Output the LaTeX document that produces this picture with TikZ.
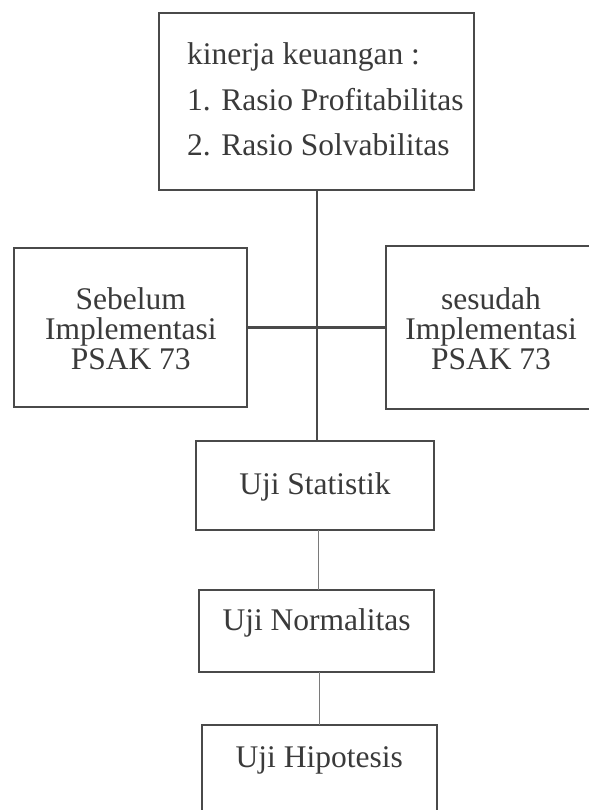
\documentclass[tikz,border=0pt]{standalone}
\usepackage{fontspec}
\setmainfont{Liberation Serif}
\definecolor{linegray}{HTML}{4A4A4A}
\definecolor{thingray}{HTML}{7A7A7A}
\definecolor{textgray}{HTML}{3A3A3A}
\begin{document}
\begin{tikzpicture}[x=1bp,y=-1bp,
  box/.style={draw=linegray, line width=2bp, inner sep=0pt, outer sep=0pt},
  conn/.style={draw=linegray, line width=2.2bp},
  thinconn/.style={draw=thingray, line width=1bp},
  txt/.style={text=textgray, font=\fontsize{31.5bp}{34bp}\selectfont, inner sep=0pt}]
\useasboundingbox (0,0) rectangle (589,810);
\clip (0,0) rectangle (589,810);
\fill[white] (0,0) rectangle (589,810);
% boxes
\node[box, minimum width=315bp, minimum height=177bp] (top) at (316.6,101.4) {};
\node[box, minimum width=233bp, minimum height=158.4bp] (left) at (130.8,327.5) {};
\node[box, minimum width=211bp, minimum height=163bp] (right) at (491.2,327.5) {};
\node[box, minimum width=238bp, minimum height=89bp] (stat) at (315,485.5) {};
\node[box, minimum width=235bp, minimum height=82bp] (norm) at (316.6,631) {};
\node[box, minimum width=235bp, minimum height=105bp] (hipo) at (319.3,777.5) {};
% texts
\node[txt, anchor=base west] (t1) at (187,65) {kinerja keuangan :};
\node[txt, anchor=base west] (t2) at (187,110) {1. Rasio Profitabilitas};
\node[txt, anchor=base west] (t3) at (187,155) {2. Rasio Solvabilitas};
\node[txt, anchor=base] (l1) at (130.8,309) {Sebelum};
\node[txt, anchor=base] (l2) at (130.8,339) {Implementasi};
\node[txt, anchor=base] (l3) at (130.8,369) {PSAK 73};
\node[txt, anchor=base] (r1) at (491,309) {sesudah};
\node[txt, anchor=base] (r2) at (491,339) {Implementasi};
\node[txt, anchor=base] (r3) at (491,369) {PSAK 73};
\node[txt, anchor=base] (s1) at (315,494) {Uji Statistik};
\node[txt, anchor=base] (n1) at (316.6,630) {Uji Normalitas};
\node[txt, anchor=base] (h1) at (319.3,767) {Uji Hipotesis};
% connectors
\coordinate (vtop) at ([xshift=0.4bp]top.south);
\draw[conn] (vtop) -- (vtop |- stat.north);
\draw[conn] (left.east) -- (right.west);
\draw[thinconn] ([xshift=3bp]stat.south) -- ([xshift=3bp]stat.south |- norm.north);
\draw[thinconn] (norm.south -| hipo.north) -- (hipo.north);
\end{tikzpicture}
\end{document}
